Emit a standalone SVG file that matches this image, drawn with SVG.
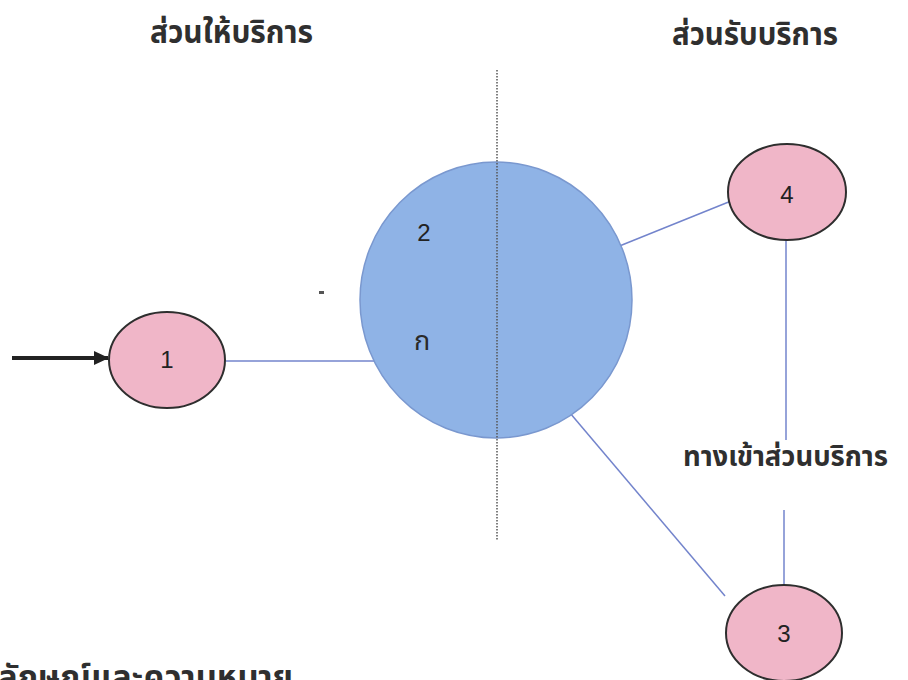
<svg xmlns="http://www.w3.org/2000/svg" width="908" height="680" viewBox="0 0 908 680">
<style>
.t{font-family:"Noto Sans Thai","Tahoma","DejaVu Sans","Noto Sans",sans-serif;fill:#2f2f2f;font-weight:bold;font-size:31px;}
.g{font-family:"Noto Sans Thai","Tahoma","DejaVu Sans","Noto Sans",sans-serif;fill:#2a2a2a;font-weight:normal;font-size:27px;}
.n{font-family:"Liberation Sans",Arial,sans-serif;font-size:24px;fill:#222;text-anchor:middle;}
.pink{fill:#f0b6c8;stroke:#2e2e2e;stroke-width:2;}
.conn{stroke:#7384cc;stroke-width:1.5;fill:none;}
</style>
<defs>
<marker id="arr" markerWidth="16" markerHeight="14" refX="14" refY="7" orient="auto" markerUnits="userSpaceOnUse">
<path d="M0,0 L15,7 L0,14 Z" fill="#222"/>
</marker>
</defs>
<rect width="908" height="680" fill="#ffffff"/>
<text class="t" x="150" y="43" textLength="163" lengthAdjust="spacingAndGlyphs">ส่วนให้บริการ</text>
<text class="t" x="672" y="45" textLength="166" lengthAdjust="spacingAndGlyphs">ส่วนรับบริการ</text>
<g id="connectors">
<line class="conn" x1="226" y1="361" x2="383" y2="361"/>
<line class="conn" x1="617" y1="247" x2="741" y2="197"/>
<line class="conn" x1="786" y1="240" x2="786" y2="440"/>
<line class="conn" x1="784" y1="510" x2="784" y2="585"/>
<line class="conn" x1="570" y1="413" x2="725" y2="596"/>
<line x1="12" y1="358" x2="108" y2="358" stroke="#222" stroke-width="4" marker-end="url(#arr)"/>
</g>
<g id="node2">
<ellipse cx="496" cy="300" rx="136" ry="138" fill="#8fb3e6" stroke="#7a98cf" stroke-width="1.5"/>
<text class="n" x="424" y="241">2</text>
<text class="g" x="414" y="350">ก</text>
</g>
<line x1="497" y1="70" x2="497" y2="540" stroke="#555" stroke-width="1.5" stroke-dasharray="1.5,1.5"/>
<g id="node1">
<ellipse class="pink" cx="167" cy="360" rx="58" ry="48"/>
<text class="n" x="167" y="368">1</text>
</g>
<g id="node4">
<ellipse class="pink" cx="787" cy="192" rx="59" ry="48"/>
<text class="n" x="787" y="203">4</text>
</g>
<g id="node3">
<ellipse class="pink" cx="784" cy="633" rx="58" ry="48"/>
<text class="n" x="784" y="642">3</text>
</g>
<text class="t" x="683" y="466" font-size="28" style="font-size:28px" textLength="205" lengthAdjust="spacingAndGlyphs">ทางเข้าส่วนบริการ</text>
<text class="t" x="-2" y="688" textLength="295" lengthAdjust="spacingAndGlyphs">ลักษณ์และความหมาย</text>
<rect x="319" y="291" width="5" height="3" fill="#555"/>
</svg>
